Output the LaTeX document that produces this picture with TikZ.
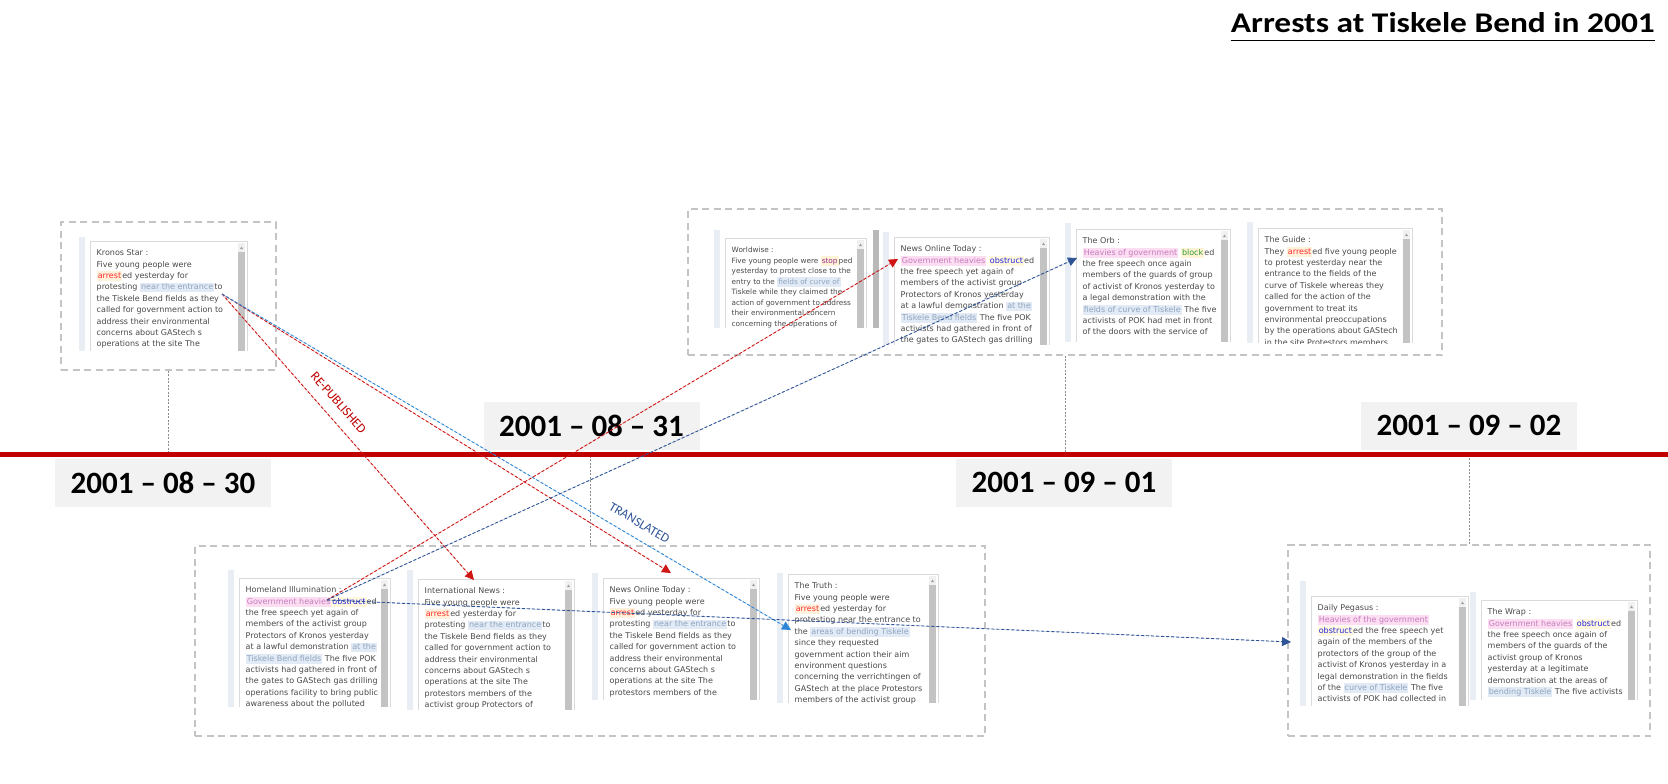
\documentclass[tikz,border=0pt]{standalone}
\usepackage{fontspec}
\setmainfont{DejaVu Sans}
\newfontfamily\calibri{Carlito}
\usetikzlibrary{arrows.meta}
\definecolor{txtc}{HTML}{4A4A4A}
\definecolor{stripc}{HTML}{E9EEF4}
\definecolor{bordc}{HTML}{DADADA}
\definecolor{scrlbg}{HTML}{F1F1F1}
\definecolor{scrl}{HTML}{C3C3C3}
\definecolor{scrarr}{HTML}{A0A0A0}
\definecolor{grpc}{HTML}{C4C4C4}
\definecolor{vlc}{HTML}{8C8C8C}
\definecolor{tlc}{HTML}{C00000}
\definecolor{datec}{HTML}{F2F2F2}
\definecolor{repc}{HTML}{D01515}
\definecolor{replbl}{HTML}{C00000}
\definecolor{dblue}{HTML}{2F5597}
\definecolor{lblue}{HTML}{2E86D6}
\definecolor{arrfg}{HTML}{FF2A2A}
\definecolor{arrbg}{HTML}{FFF2DC}
\definecolor{locfg}{HTML}{8EA4C0}
\definecolor{locbg}{HTML}{E2EBF5}
\definecolor{govfg}{HTML}{C67CBE}
\definecolor{govbg}{HTML}{FCDDF2}
\definecolor{obsfg}{HTML}{2525DD}
\definecolor{obsbg}{HTML}{FFF8DC}
\definecolor{stpfg}{HTML}{9B2C8C}
\definecolor{blkfg}{HTML}{2E9A2E}
\definecolor{yelbg}{HTML}{FFF4D6}
\newcommand\pfont{\fontsize{8}{11.4}\selectfont\lineskiplimit=-100pt\lineskip=0pt}
\newcommand\hlt[3]{{\setlength\fboxsep{0pt}\colorbox{#1}{\kern1.1pt\rule[-2.4pt]{0pt}{9.5pt}\textcolor{#2}{#3}\kern1.1pt}}}
\newcommand\harr{\hlt{arrbg}{arrfg}{arrest}}
\newcommand\hobs{\hlt{obsbg}{obsfg}{obstruct}}
\newcommand\hstp{\hlt{yelbg}{stpfg}{stop}}
\newcommand\hblk{\hlt{yelbg}{blkfg}{block}}
\newcommand\hloc[1]{\hlt{locbg}{locfg}{#1}}
\newcommand\hgov[1]{\hlt{govbg}{govfg}{#1}}
% #1 strip top, #2 box x1, #3 box top, #4 box x2, #5 bottom, #6 name, #7 text
\newcommand\newspanel[7]{%
  \fill[stripc] ({#2-11},#1) rectangle ({#2-5},#5);
  \fill[white] (#2,#3) rectangle (#4,#5);
  \begin{scope}
    \clip (#2,#3) rectangle (#4,#5);
    \node[ptext] (#6) at ({#2+6.5},{#3+6.5}) {\rule{0pt}{8pt}#7};
  \end{scope}
  \draw[bordc, line width=0.8pt] (#2,#5) -- (#2,#3) -- (#4,#3) -- (#4,#5);
  \fill[scrlbg] ({#4-9},{#3+2}) rectangle ({#4-2},#5);
  \fill[scrl] ({#4-9},{#3+11}) rectangle ({#4-2},#5);
  \fill[scrarr] ({#4-7},{#3+8}) -- ({#4-4},{#3+8}) -- ({#4-5.5},{#3+5.5}) -- cycle;
}
\tikzset{
  ptext/.style={anchor=north west, inner sep=0pt, align=left, font=\pfont, text=txtc},
  groupbox/.style={draw=grpc, line width=1.5pt, dash pattern=on 7pt off 4.5pt, inner sep=0pt},
  vline/.style={draw=vlc, line width=0.7pt, dash pattern=on 2pt off 1.5pt},
  datebox/.style={fill=datec, minimum width=216pt, minimum height=48pt, inner sep=0pt,
    font=\calibri\bfseries\fontsize{31}{36}\selectfont},
  conn/.style={line width=0.9pt, dash pattern=on 3pt off 2pt, -{Triangle[length=9pt,width=9pt]}},
  redconn/.style={conn, draw=repc, fill=repc},
  dblconn/.style={conn, draw=dblue, fill=dblue},
  lblconn/.style={conn, draw=lblue, fill=lblue},
  lbl/.style={font=\calibri\fontsize{13}{15}\selectfont, inner sep=0pt},
}
\begin{document}
\begin{tikzpicture}[x=1pt, y=-1pt]
\useasboundingbox (0,0) rectangle (1668,784);
% group boxes
\node[groupbox, minimum width=215pt, minimum height=148pt] (g1) at (168.5,296) {};
\node[groupbox, minimum width=754pt, minimum height=146pt] (g2) at (1065,282) {};
\node[groupbox, minimum width=790pt, minimum height=190pt] (g3) at (590,641) {};
\node[groupbox, minimum width=362pt, minimum height=191pt] (g4) at (1469,640.5) {};
% panels
\newspanel{237}{90}{241}{247}{351}{kronos}{Kronos Star :\\
Five young people were\\
\harr ed yesterday for\\
protesting \hloc{near the entrance}to\\
the Tiskele Bend fields as they\\
called for government action to\\
address their environmental\\
concerns about GAStech s\\
operations at the site The}
\renewcommand\pfont{\fontsize{7.3}{10.5}\selectfont\lineskiplimit=-100pt\lineskip=0pt}
\newspanel{230}{725}{238}{866}{328}{worldwise}{Worldwise :\\
Five young people were \hstp ped\\
yesterday to protest close to the\\
entry to the \hloc{fields of curve of}\\
Tiskele while they claimed the\\
action of government to address\\
their environmental concern\\
concerning the operations of}
\renewcommand\pfont{\fontsize{8}{11.4}\selectfont\lineskiplimit=-100pt\lineskip=0pt}
\fill[scrl!95!black] (873,230) rectangle (879,328);
\newspanel{232}{894}{237}{1049}{345}{notop}{News Online Today :\\
\hgov{Government heavies} \hobs ed\\
the free speech yet again of\\
members of the activist group\\
Protectors of Kronos yesterday\\
at a lawful demonstration \hloc{at the}\\
\hloc{Tiskele Bend fields} The five POK\\
activists had gathered in front of\\
the gates to GAStech gas drilling}
\newspanel{223}{1076}{229}{1230}{342}{orb}{The Orb :\\
\hgov{Heavies of government} \hblk ed\\
the free speech once again\\
members of the guards of group\\
of activist of Kronos yesterday to\\
a legal demonstration with the\\
\hloc{fields of curve of Tiskele} The five\\
activists of POK had met in front\\
of the doors with the service of}
\newspanel{222}{1258}{228}{1412}{343}{guide}{The Guide :\\
They \harr ed five young people\\
to protest yesterday near the\\
entrance to the fields of the\\
curve of Tiskele whereas they\\
called for the action of the\\
government to treat its\\
environmental preoccupations\\
by the operations about GAStech\\
in the site Protestors members}
\newspanel{570}{239}{578}{390}{707}{homeland}{Homeland Illumination :\\
\hgov{Government heavies}\hobs ed\\
the free speech yet again of\\
members of the activist group\\
Protectors of Kronos yesterday\\
at a lawful demonstration \hloc{at the}\\
\hloc{Tiskele Bend fields} The five POK\\
activists had gathered in front of\\
the gates to GAStech gas drilling\\
operations facility to bring public\\
awareness about the polluted}
\newspanel{570}{418}{579}{574}{710}{intnews}{International News :\\
Five young people were\\
\harr ed yesterday for\\
protesting \hloc{near the entrance}to\\
the Tiskele Bend fields as they\\
called for government action to\\
address their environmental\\
concerns about GAStech s\\
operations at the site The\\
protestors members of the\\
activist group Protectors of}
\newspanel{573}{603}{578}{759}{700}{nobottom}{News Online Today :\\
Five young people were\\
\harr ed yesterday for\\
protesting \hloc{near the entrance}to\\
the Tiskele Bend fields as they\\
called for government action to\\
address their environmental\\
concerns about GAStech s\\
operations at the site The\\
protestors members of the}
\newspanel{573}{788}{574}{938}{703}{truth}{The Truth :\\
Five young people were\\
\harr ed yesterday for\\
protesting near the entrance to\\
the \hloc{areas of bending Tiskele}\\
since they requested\\
government action their aim\\
environment questions\\
concerning the verrichtingen of\\
GAStech at the place Protestors\\
members of the activist group}
\newspanel{581}{1311}{596}{1468}{706}{pegasus}{Daily Pegasus :\\
\hgov{Heavies of the government}\\
\hobs ed the free speech yet\\
again of the members of the\\
protectors of the group of the\\
activist of Kronos yesterday in a\\
legal demonstration in the fields\\
of the \hloc{curve of Tiskele} The five\\
activists of POK had collected in}
\newspanel{592}{1481}{600}{1637}{700}{wrap}{The Wrap :\\
\hgov{Government heavies} \hobs ed\\
the free speech once again of\\
members of the guards of the\\
activist group of Kronos\\
yesterday at a legitimate\\
demonstration at the areas of\\
\hloc{bending Tiskele} The five activists}
% timeline
\coordinate (tlL) at (0,454);
\coordinate (tlR) at (1668,454);
\draw[vline] (g1.south) -- (g1.south |- tlL);
\draw[vline] (g2.south) -- (g2.south |- tlL);
\draw[vline] (g3.north) -- (g3.north |- tlL);
\draw[vline] (g4.north) -- (g4.north |- tlL);
\draw[tlc, line width=5pt] (tlL) -- (tlR);
% dates
\node[datebox] (d30) at (163,482.5) {2001 – 08 – 30};
\node[datebox] (d31) at (591.5,425.5) {2001 – 08 – 31};
\node[datebox] (d01) at (1064,482.5) {2001 – 09 – 01};
\node[datebox] (d02) at (1469,425.5) {2001 – 09 – 02};
% connectors
\coordinate (kSrc) at (222,294);
\coordinate (hSrc) at (327,600);
\coordinate (inTip) at (474,580);
\coordinate (nbTip) at (671,573);
\coordinate (trTip) at (791,630);
\coordinate (ntTip) at (898,259);
\coordinate (orbTip) at (1077,258);
\coordinate (pegTip) at (1291,642);
\draw[redconn] (kSrc) -- node[lbl, sloped, above=10.8pt, pos=0.416, text=replbl] {RE-PUBLISHED} (inTip);
\draw[redconn] (kSrc) -- (nbTip);
\draw[lblconn] (kSrc) -- node[lbl, sloped, above=10.5pt, pos=0.72, text=dblue] {TRANSLATED} (trTip);
\draw[redconn] (hSrc) -- (ntTip);
\draw[dblconn] (hSrc) -- (orbTip);
\draw[dblconn] (hSrc) -- (pegTip);
% title
\node[anchor=base east, inner sep=0pt, font=\calibri\bfseries\fontsize{30}{36}\selectfont] (title) at (1655,33) {\scalebox{1.113}[0.95]{Arrests at Tiskele Bend in 2001}};
\draw[line width=1.7pt] ([yshift=-7.5pt]title.base west) -- ([yshift=-7.5pt]title.base east);
\end{tikzpicture}
\end{document}
